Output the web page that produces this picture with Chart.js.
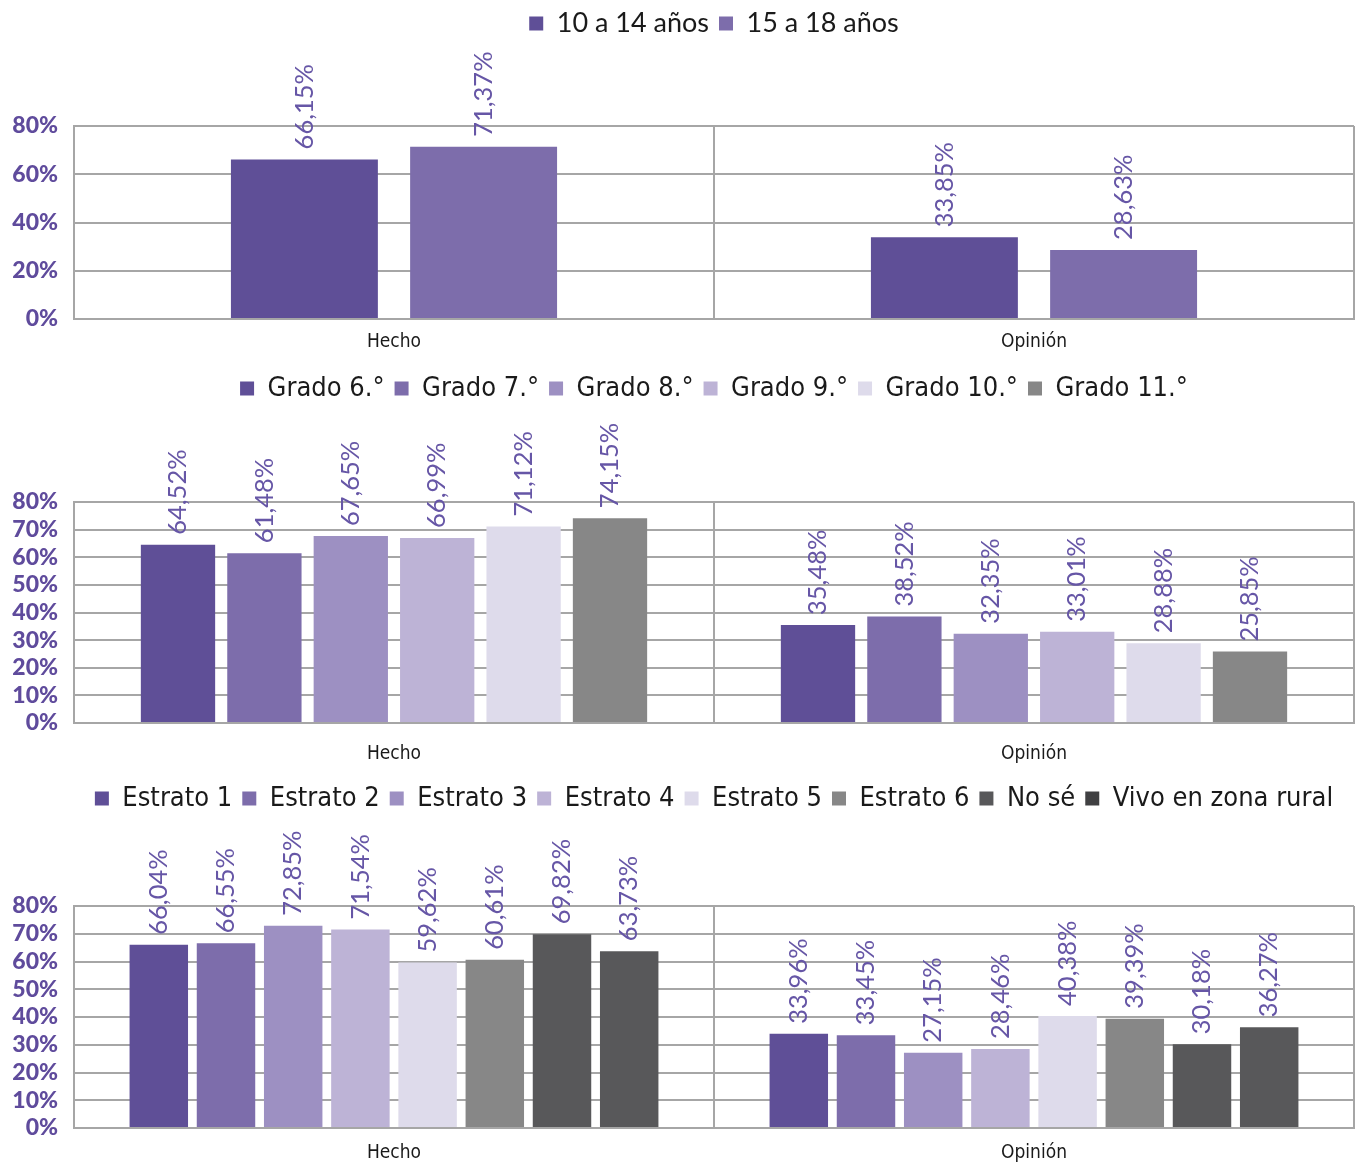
<!DOCTYPE html>
<html>
<head>
<meta charset="utf-8">
<script src="https://cdn.jsdelivr.net/npm/chart.js@4/dist/chart.umd.min.js"></script>
<style>
  body { margin: 0; background: #fff; }
  .box { position: relative; width: 1360px; }
</style>
</head>
<body>
<div class="box" style="height:365px"><canvas id="edadChart"></canvas></div>
<div class="box" style="height:410px"><canvas id="gradoChart"></canvas></div>
<div class="box" style="height:390px"><canvas id="estratoChart"></canvas></div>
<script>
// categorias comunes
const categories = ["Hecho", "Opinión"];

// grafico 1: edad
const edadSeries = ["10 a 14 años", "15 a 18 años"];
const edad10a14 = [66.15, 33.85];
const edad15a18 = [71.37, 28.63];

// grafico 2: grado
const gradoSeries = ["Grado 6.°", "Grado 7.°", "Grado 8.°", "Grado 9.°", "Grado 10.°", "Grado 11.°"];
const grado6 = [64.52, 35.48];
const grado7 = [61.48, 38.52];
const grado8 = [67.65, 32.35];
const grado9 = [66.99, 33.01];
const grado10 = [71.12, 28.88];
const grado11 = [74.15, 25.85];

// grafico 3: estrato
const estratoSeries = ["Estrato 1", "Estrato 2", "Estrato 3", "Estrato 4", "Estrato 5", "Estrato 6", "No sé", "Vivo en zona rural"];
const estrato1 = [66.04, 33.96];
const estrato2 = [66.55, 33.45];
const estrato3 = [72.85, 27.15];
const estrato4 = [71.54, 28.46];
const estrato5 = [59.62, 40.38];
const estrato6 = [60.61, 39.39];
const noSe = [69.82, 30.18];
const rural = [63.73, 36.27];

const palette = ["#5f4f97", "#7d6dab", "#9d90c2", "#bdb3d6", "#dedbeb", "#878787", "#58585a", "#58585a"];
const legendPalette = ["#5f4f97", "#7d6dab", "#9d90c2", "#bdb3d6", "#dedbeb", "#878787", "#58585a", "#404042"];
const purple = "#5f4b9c";
const labelColor = "#6656a6";
const gridColor = "#a6a6a6";
const narrow = "'Liberation Sans Narrow', 'DejaVu Sans Condensed', sans-serif";

function fmt(v) {
  return v.toFixed(2).replace(".", ",") + "%";
}

const barLabels = {
  id: "barLabels",
  afterDatasetsDraw(chart) {
    const ctx = chart.ctx;
    ctx.save();
    ctx.fillStyle = labelColor;
    ctx.font = "25.5px Lato";
    ctx.textAlign = "left";
    ctx.textBaseline = "middle";
    chart.data.datasets.forEach((ds, i) => {
      chart.getDatasetMeta(i).data.forEach((bar, j) => {
        ctx.save();
        ctx.translate(bar.x, bar.y - 10);
        ctx.rotate(-Math.PI / 2);
        ctx.fillText(fmt(ds.data[j]), 0, 0);
        ctx.restore();
      });
    });
    ctx.restore();
  },
};

function legendHeight(h) {
  return {
    id: "legendHeight",
    beforeInit(chart) {
      const fit = chart.legend.fit;
      chart.legend.fit = function () {
        fit.call(this);
        this.height = h;
      };
    },
  };
}

function makeChart(id, names, values, cfg) {
  const el = document.getElementById(id);
  new Chart(el.getContext("2d"), {
    type: "bar",
    data: {
      labels: categories,
      datasets: names.map((n, i) => ({
        label: n,
        data: values[i],
        backgroundColor: palette[i],
        borderWidth: 0,
        categoryPercentage: cfg.catPct,
        barPercentage: cfg.barPct,
      })),
    },
    options: {
      responsive: true,
      maintainAspectRatio: false,
      animation: false,
      layout: { padding: { top: 0, right: 6, bottom: 0, left: 0 } },
      plugins: {
        legend: {
          position: "top",
          fullSize: false,
          labels: {
            font: { family: cfg.legendFont, size: 27 },
            color: "#1a1a1a",
            boxWidth: 14,
            boxHeight: 14,
            padding: 10,
            generateLabels(chart) {
              const items = Chart.defaults.plugins.legend.labels.generateLabels(chart);
              items.forEach((it, i) => {
                it.fillStyle = legendPalette[i];
                it.strokeStyle = legendPalette[i];
                it.lineWidth = 0;
              });
              return items;
            },
          },
        },
        tooltip: { enabled: false },
      },
      scales: {
        x: {
          afterFit(scale) { scale.height = cfg.xHeight; },
          grid: { color: gridColor, lineWidth: 2, drawTicks: false, offset: true },
          border: { color: gridColor, width: 2 },
          ticks: {
            font: { family: narrow, size: 19 },
            color: "#1a1a1a",
            padding: cfg.xPad,
          },
        },
        y: {
          min: 0,
          max: 80,
          afterFit(scale) { scale.width = 74; },
          grid: { color: gridColor, lineWidth: 2, drawTicks: false },
          border: { color: gridColor, width: 2 },
          ticks: {
            stepSize: cfg.step,
            autoSkip: false,
            padding: 16,
            font: { family: "Lato", size: 23, weight: "900" },
            color: purple,
            callback: (v) => v + "%",
          },
        },
      },
    },
    plugins: [barLabels, legendHeight(cfg.legendH)],
  });
}

makeChart("edadChart", edadSeries, [edad10a14, edad15a18], {
  catPct: 0.56, barPct: 0.82, step: 20, legendH: 126, xHeight: 46, xPad: 12, legendFont: "Lato",
});
makeChart("gradoChart", gradoSeries, [grado6, grado7, grado8, grado9, grado10, grado11], {
  catPct: 0.81, barPct: 0.86, step: 10, legendH: 137, xHeight: 52, xPad: 20, legendFont: narrow,
});
makeChart("estratoChart", estratoSeries, [estrato1, estrato2, estrato3, estrato4, estrato5, estrato6, noSe, rural], {
  catPct: 0.84, barPct: 0.87, step: 10, legendH: 131, xHeight: 37, xPad: 14, legendFont: narrow,
});
</script>
</body>
</html>
